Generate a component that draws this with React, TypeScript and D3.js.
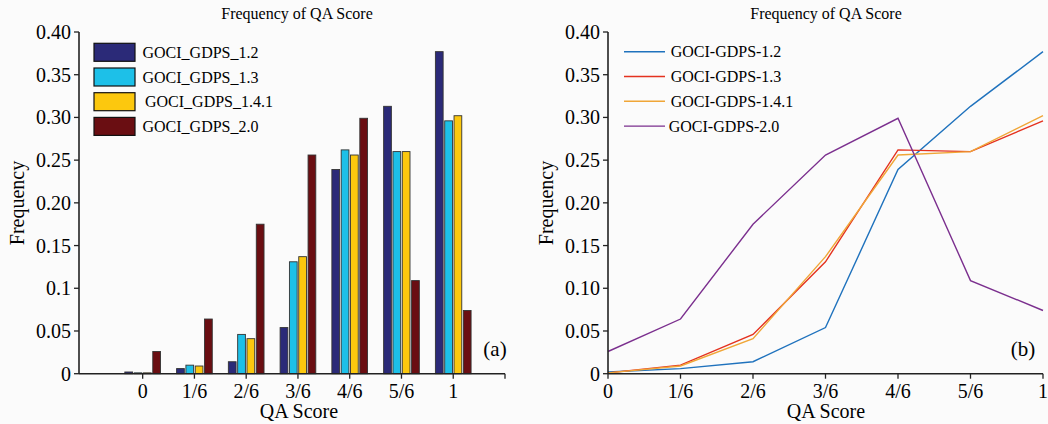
import React from 'react'
import * as d3 from 'd3'

// QA score categories
const categories = ['0', '1/6', '2/6', '3/6', '4/6', '5/6', '1']
const barNames = ['GOCI_GDPS_1.2', 'GOCI_GDPS_1.3', 'GOCI_GDPS_1.4.1', 'GOCI_GDPS_2.0']
const lineNames = ['GOCI-GDPS-1.2', 'GOCI-GDPS-1.3', 'GOCI-GDPS-1.4.1', 'GOCI-GDPS-2.0']

// frequencies per version
const gdps12 = [0.002, 0.006, 0.014, 0.054, 0.239, 0.313, 0.377]
const gdps13 = [0.001, 0.010, 0.046, 0.131, 0.262, 0.260, 0.296]
const gdps141 = [0.001, 0.009, 0.041, 0.137, 0.256, 0.260, 0.302]
const gdps20 = [0.026, 0.064, 0.175, 0.256, 0.299, 0.109, 0.074]

const yTicks = [0, 0.05, 0.1, 0.15, 0.2, 0.25, 0.3, 0.35, 0.4]
const yLabelsA = ['0', '0.05', '0.1', '0.15', '0.20', '0.25', '0.30', '0.35', '0.40']
const yLabelsB = ['0', '0.05', '0.10', '0.15', '0.20', '0.25', '0.30', '0.35', '0.40']

const series = [gdps12, gdps13, gdps141, gdps20]
const barColors = ['#2b2a78', '#1dc0e8', '#fcc80e', '#6a0e12']
const lineColors = ['#1f72bd', '#e4321f', '#f0a637', '#7b2f8e']

const FONT = "'Liberation Serif', 'DejaVu Serif', serif"
const AXIS = '#222'

export default function App() {
  const W = 1048
  const H = 424

  const y = d3.scaleLinear().domain([0, 0.4]).range([373.7, 32])

  // panel (a)
  const xa = d3.scaleLinear().domain([-1.23, 7]).range([79, 505])
  const step = xa(1) - xa(0)
  const pitch = step * 0.18
  const bw = pitch * 0.83

  // panel (b)
  const xb = d3.scaleLinear().domain([0, 6]).range([608, 1043])
  const line = (vals: number[]) =>
    d3.line<number>().x((_, i) => xb(i)).y(d => y(d))(vals) || ''

  const yAxis = (x0: number, labels: string[]) => (
    <g>
      <line x1={x0} x2={x0} y1={y(0.4)} y2={y(0)} stroke={AXIS} strokeWidth={1.6} />
      {yTicks.map((t, i) => (
        <g key={i}>
          <line x1={x0 - 5} x2={x0} y1={y(t)} y2={y(t)} stroke={AXIS} strokeWidth={1.3} />
          <text x={x0 - 8} y={y(t)} dy="0.35em" textAnchor="end" fontSize={20}>
            {labels[i]}
          </text>
        </g>
      ))}
    </g>
  )

  return (
    <div style={{ position: 'absolute', left: 0, top: 0 }}>
      <svg width={W} height={H} style={{ display: 'block', background: '#fbfbfb', fontFamily: FONT }}>
        {/* ---------- (a) grouped bars ---------- */}
        <text x={297} y={19} textAnchor="middle" fontSize={16}>Frequency of QA Score</text>
        {categories.map((c, i) =>
          series.map((s, j) => (
            <rect
              key={c + j}
              x={xa(i) + (j - 1.5) * pitch - bw / 2}
              y={y(s[i])}
              width={bw}
              height={y(0) - y(s[i])}
              fill={barColors[j]}
              stroke="#333"
              strokeWidth={0.9}
            />
          ))
        )}
        {yAxis(79, yLabelsA)}
        <line x1={79} x2={505} y1={y(0)} y2={y(0)} stroke={AXIS} strokeWidth={1.6} />
        {d3.range(0, 8).map(i => (
          <g key={i}>
            <line x1={xa(i)} x2={xa(i)} y1={y(0)} y2={y(0) + 5} stroke={AXIS} strokeWidth={1.3} />
            {i < 7 && (
              <text x={xa(i)} y={398} textAnchor="middle" fontSize={20}>{categories[i]}</text>
            )}
          </g>
        ))}
        <text x={299} y={418} textAnchor="middle" fontSize={20}>QA Score</text>
        <text transform="translate(24,203) rotate(-90)" textAnchor="middle" fontSize={20}>Frequency</text>
        <text x={495} y={356} textAnchor="middle" fontSize={21}>(a)</text>
        {barNames.map((n, j) => (
          <g key={n} transform={`translate(94,${43.3 + j * 24.7})`}>
            <rect width={41} height={18} fill={barColors[j]} stroke="#111" strokeWidth={1.2} />
            <text x={j === 2 ? 51 : 48.5} y={9} dy="0.35em" fontSize={16}>{n}</text>
          </g>
        ))}

        {/* ---------- (b) lines ---------- */}
        <text x={826} y={19} textAnchor="middle" fontSize={16}>Frequency of QA Score</text>
        {series.map((s, j) => (
          <path key={j} d={line(s)} fill="none" stroke={lineColors[j]} strokeWidth={1.4} />
        ))}
        {yAxis(608, yLabelsB)}
        <line x1={608} x2={1043} y1={y(0)} y2={y(0)} stroke={AXIS} strokeWidth={1.6} />
        {categories.map((c, i) => (
          <g key={c}>
            <line x1={xb(i)} x2={xb(i)} y1={y(0)} y2={y(0) + 5} stroke={AXIS} strokeWidth={1.3} />
            <text x={xb(i)} y={398} textAnchor="middle" fontSize={20}>{c}</text>
          </g>
        ))}
        <text x={826} y={418} textAnchor="middle" fontSize={20}>QA Score</text>
        <text transform="translate(553,203) rotate(-90)" textAnchor="middle" fontSize={20}>Frequency</text>
        <text x={1023} y={356} textAnchor="middle" fontSize={21}>(b)</text>
        {lineNames.map((n, j) => (
          <g key={n} transform={`translate(624,${51.7 + j * 24.8})`}>
            <line x1={0} x2={41} y1={0} y2={0} stroke={lineColors[j]} strokeWidth={1.4} />
            <text x={j === 3 ? 44.7 : 46.7} y={0} dy="0.35em" fontSize={16}>{n}</text>
          </g>
        ))}
      </svg>
    </div>
  )
}
